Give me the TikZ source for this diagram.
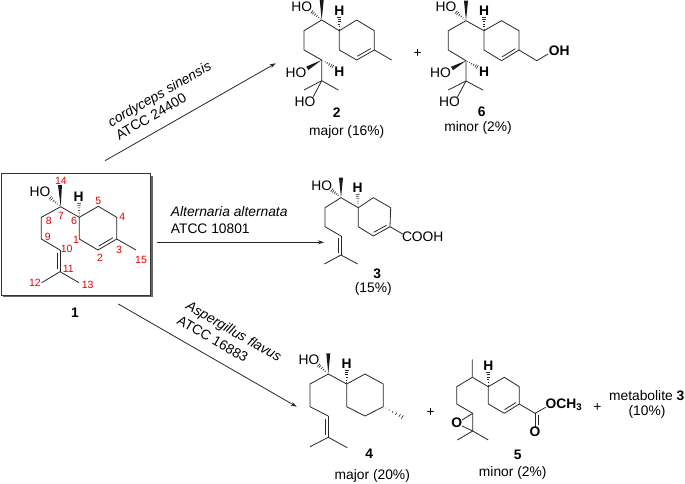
\documentclass[tikz,border=0pt]{standalone}
\usepackage{fontspec}
\setmainfont{Liberation Sans}
\usetikzlibrary{calc,arrows.meta}
\tikzset{
  every node/.style={inner sep=0pt, font=\fontsize{13.8}{16}\selectfont},
  bond/.style={draw=black!85, line width=0.8pt},
  rxn/.style={draw=black!85, line width=0.8pt, -{Stealth[length=6pt,width=4pt]}},
  num/.style={text=red!90!black, font=\fontsize{10.5}{12}\selectfont},
  atom/.style={font=\fontsize{13.8}{16}\selectfont\bfseries},
  cname/.style={font=\fontsize{13.8}{16}\selectfont\bfseries},
}
\newcommand{\wedgebond}[2]{%
  \fill[black!90] (#1) -- ($(#2)!2pt!90:(#1)$) -- ($(#2)!2pt!-90:(#1)$) -- cycle;}
\newcommand{\hashbond}[2]{%
  \foreach \t in {0.12,0.3,0.48,0.66,0.84,0.98}
    \draw[black!85, line width=0.6pt] ($(#1)!\t!(#2)!\t*2pt!90:(#2)$) -- ($(#1)!\t!(#2)!\t*2pt!-90:(#2)$);}
\newcommand{\dblbond}[3]{%
  \draw[bond] (#1) -- (#2);
  \draw[bond] ($(#1)!0.12!(#2)!3pt!#3:(#2)$) -- ($(#2)!0.12!(#1)!3pt!-#3:(#1)$);}
\begin{document}
\begin{tikzpicture}[x=1pt,y=-1pt]
  \useasboundingbox (0,0) rectangle (685,483);
  % box round compound 1
  \fill[black!60] (3,175.5) rectangle (152.5,297);
  \node[draw=black!80, fill=white, line width=0.9pt, minimum width=149.5pt, minimum height=121.5pt] (box) at (75.7,234.2) {};
  % atoms of 1
  \foreach \n/\x/\y in {a7/60.7/206.7, a14/60/185, a6/79.3/217.3, a5/98.3/206.3, a4/116.7/217.3,
      a3/116.7/239, a2/98/250, a1/79.3/239, a15/136/250, a8/41.3/217.3, a9/41.3/239,
      a10/60/250, a11/60/271.7, a12/41.7/282.7, a13/79/282.7, aoh/50/197.7, ah/79/203}
    \coordinate (\n) at (\x,\y);
  \draw[bond] (a7) -- (a8) -- (a9) -- (a10);
  \draw[bond] (a7) -- (a6) -- (a5) -- (a4) -- (a3);
  \draw[bond] (a6) -- (a1) -- (a2);
  \draw[bond] (a3) -- (a15);
  \draw[bond] (a12) -- (a11) -- (a13);
  \dblbond{a2}{a3}{90}
  \dblbond{a10}{a11}{-90}
  \wedgebond{a7}{a14}
  \hashbond{a7}{aoh}
  \hashbond{a6}{ah}
  \node (aho) at (40,192) {HO};
  \node[atom] (ahl) at (78.7,196.5) {H};
  \foreach \n/\x/\y in {14/61/181.3, 7/61/216, 8/48.7/221, 6/74/221, 5/98.3/201.3, 4/122.3/217.3,
      9/47.7/236.7, 1/76/240, 10/66.7/249.3, 3/119/250, 2/100/257.7, 15/141/260,
      11/68.3/269.3, 12/35/283.3, 13/87.7/285.3}
    \node[num] (n\n) at (\x,\y) {\n};
  \node[cname] (l1) at (75,313) {1};
  % reactions
  \coordinate (r1s) at (105,160.7);
  \coordinate (r1e) at (275.7,63.3);
  \coordinate (r2s) at (156.7,242.3);
  \coordinate (r2e) at (324,242.3);
  \coordinate (r3s) at (118.3,304);
  \coordinate (r3e) at (296.7,406.7);
  \draw[rxn] (r1s) -- (r1e);
  \draw[rxn] (r2s) -- (r2e);
  \draw[rxn] (r3s) -- (r3e);
  \node[rotate=30] (t1a) at (160,95) {\itshape cordyceps sinensis};
  \node[rotate=30] (t1b) at (151,116.5) {ATCC 24400};
  \node[anchor=west] (t2a) at (170.7,212) {\itshape Alternaria alternata};
  \node[anchor=west] (t2b) at (170.7,228.3) {ATCC 10801};
  \node[rotate=-30] (t3a) at (233.3,332.3) {\itshape Aspergillus flavus};
  \node[rotate=-30] (t3b) at (212.7,339) {ATCC 16883};
  % compound 2
  \foreach \n/\x/\y in {b7/321.7/20, b14/321.7/0, b6/339.3/30.7, b5/356.7/20, b4/374.3/30.7,
      b3/374.3/50, b2/356.7/60, b1/339.3/50, b15/391.7/60, b8/304/30.7, b9/304/50,
      b10/321.7/60, b11/321.7/80.7, b12/304/90, b13/338.3/90, boh/311.7/11.7, bh/339.3/17,
      boa/307.3/68.3, bha/333/66.7, bob/313.3/96.7}
    \coordinate (\n) at (\x,\y);
  \draw[bond] (b7) -- (b8) -- (b9) -- (b10) -- (b11);
  \draw[bond] (b7) -- (b6) -- (b5) -- (b4) -- (b3);
  \draw[bond] (b6) -- (b1) -- (b2);
  \draw[bond] (b3) -- (b15);
  \draw[bond] (b12) -- (b11) -- (b13);
  \draw[bond] (b11) -- (bob);
  \dblbond{b2}{b3}{90}
  \wedgebond{b7}{b14}
  \hashbond{b7}{boh}
  \hashbond{b6}{bh}
  \wedgebond{b10}{boa}
  \hashbond{b10}{bha}
  \node (bho) at (301.7,6.7) {HO};
  \node[atom] (bhl) at (339.3,10.5) {H};
  \node (bho2) at (296,72.7) {HO};
  \node[atom] (bhl2) at (339.3,71.7) {H};
  \node (bho3) at (305,101.7) {HO};
  \node[cname] (l2) at (336.7,112.7) {2};
  \node (y2) at (346.7,132.3) {major (16\%)};
  \node (p1) at (417.7,53.3) {+};
  % compound 6
  \foreach \n/\x/\y in {f7/466/20.7, f14/466/0.7, f6/484/30.7, f5/501.5/20.7, f4/519/30.7,
      f3/519/50, f2/501.5/60.7, f1/484/50, f15/536.7/60.7, f8/448.3/30.7, f9/448.3/50,
      f10/466/60.7, f11/466/81, f12/448.3/90, f13/483/90, foh/456/12, fh/484/17,
      foa/452/68.5, fha/477.5/67, fob/457.5/97, fo/548/54}
    \coordinate (\n) at (\x,\y);
  \draw[bond] (f7) -- (f8) -- (f9) -- (f10) -- (f11);
  \draw[bond] (f7) -- (f6) -- (f5) -- (f4) -- (f3);
  \draw[bond] (f6) -- (f1) -- (f2);
  \draw[bond] (f3) -- (f15) -- (fo);
  \draw[bond] (f12) -- (f11) -- (f13);
  \draw[bond] (f11) -- (fob);
  \dblbond{f2}{f3}{90}
  \wedgebond{f7}{f14}
  \hashbond{f7}{foh}
  \hashbond{f6}{fh}
  \wedgebond{f10}{foa}
  \hashbond{f10}{fha}
  \node (fho) at (446,7) {HO};
  \node[atom] (fhl) at (484,10.5) {H};
  \node (fho2) at (440.5,73) {HO};
  \node[atom] (fhl2) at (484,71.7) {H};
  \node (fho3) at (449.5,101.7) {HO};
  \node[atom] (fohl) at (559.3,51) {OH};
  \node[cname] (l6) at (481.7,111.7) {6};
  \node (y6) at (478,128.3) {minor (2\%)};
  % compound 3
  \foreach \n/\x/\y in {c7/341/197.7, c14/341/177.7, c6/358.3/207.7, c5/373.3/197.7, c4/390.7/207.7,
      c3/390/226.7, c2/373.3/236, c1/358.3/226.7, c15/402.7/234, c8/325/207.7, c9/325/226.7,
      c10/341/236, c11/341/255, c12/324.3/264, c13/357.7/264, coh/331.7/190, ch/357.7/194}
    \coordinate (\n) at (\x,\y);
  \draw[bond] (c7) -- (c8) -- (c9) -- (c10);
  \draw[bond] (c7) -- (c6) -- (c5) -- (c4) -- (c3) -- (c15);
  \draw[bond] (c6) -- (c1) -- (c2);
  \draw[bond] (c12) -- (c11) -- (c13);
  \dblbond{c2}{c3}{90}
  \dblbond{c10}{c11}{-90}
  \wedgebond{c7}{c14}
  \hashbond{c7}{coh}
  \hashbond{c6}{ch}
  \node (cho) at (321.7,185.7) {HO};
  \node[atom] (chl) at (357.7,187.5) {H};
  \node (cooh) at (422.7,237) {COOH};
  \node[cname] (l3) at (377.3,273.3) {3};
  \node (y3) at (373.3,289) {(15\%)};
  % compound 4
  \foreach \n/\x/\y in {d7/328.3/374, d14/328.3/353.3, d6/346.7/384, d5/365/374, d4/383.3/384,
      d3/383.3/406.7, d2/365/416, d1/346.7/406.7, d15/402.7/417.3, d8/310/384, d9/310/406.7,
      d10/328.3/416, d11/328.3/437.3, d12/310/446.7, d13/347.3/447.7, doh/318.3/365, dh/346.7/370}
    \coordinate (\n) at (\x,\y);
  \draw[bond] (d7) -- (d8) -- (d9) -- (d10);
  \draw[bond] (d7) -- (d6) -- (d5) -- (d4) -- (d3) -- (d2) -- (d1) -- (d6);
  \draw[bond] (d12) -- (d11) -- (d13);
  \dblbond{d10}{d11}{-90}
  \wedgebond{d7}{d14}
  \hashbond{d7}{doh}
  \hashbond{d6}{dh}
  \hashbond{d3}{d15}
  \node (dho) at (309,360) {HO};
  \node[atom] (dhl) at (346.7,363.5) {H};
  \node[cname] (l4) at (369.3,454) {4};
  \node (y4) at (372.3,475.7) {major (20\%)};
  \node (p2) at (430.7,412.7) {+};
  % compound 5
  \foreach \n/\x/\y in {e7/472.3/377.3, e14/472.3/359.3, e6/488.3/386.7, e5/504.3/377.3, e4/519.3/386.7,
      e3/519.3/404, e2/504.3/413.3, e1/488.3/404, e15/535/413.3, e8/456.7/386.7, e9/456.7/404,
      e10/472.7/413.3, e11/472.7/431, e12/457.3/440, e13/488.3/440, eh/488.3/372,
      eo/545.7/407.3, eod/535/426.7, eoa/462/420, eob/462/426}
    \coordinate (\n) at (\x,\y);
  \draw[bond] (e14) -- (e7) -- (e8) -- (e9) -- (e10) -- (e11);
  \draw[bond] (e7) -- (e6) -- (e5) -- (e4) -- (e3) -- (e15) -- (eo);
  \draw[bond] (e6) -- (e1) -- (e2);
  \draw[bond] (e12) -- (e11) -- (e13);
  \draw[bond] (e10) -- (eoa);
  \draw[bond] (e11) -- (eob);
  \dblbond{e2}{e3}{90}
  \dblbond{e15}{eod}{90}
  \hashbond{e6}{eh}
  \node[atom] (eep) at (456.7,422.7) {O};
  \node[atom] (ehl) at (488.3,365.5) {H};
  \node[atom] (eoch) at (564,405) {OCH\textsubscript{3}};
  \node[atom] (ecbo) at (535,431.7) {O};
  \node[cname] (l5) at (517.7,455) {5};
  \node (y5) at (512.7,472.7) {minor (2\%)};
  \node (p3) at (597.3,407.7) {+};
  \node (m3) at (646.7,395.3) {metabolite \textbf{3}};
  \node (y7) at (647,412) {(10\%)};
\end{tikzpicture}
\end{document}
